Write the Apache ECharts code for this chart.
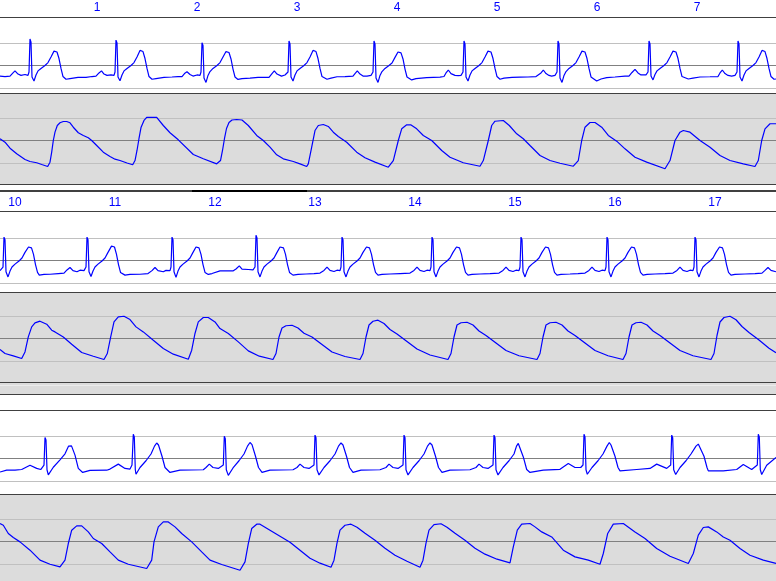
<!DOCTYPE html>
<html>
<head>
<meta charset="utf-8">
<script src="https://cdn.jsdelivr.net/npm/echarts@6.0.0/dist/echarts.min.js"></script>
<style>
html,body{margin:0;padding:0;background:#fff;}
#main{width:776px;height:581px;}
</style>
</head>
<body>
<div id="main"></div>
<script>
// ---- time bases (seconds) of the three strips and the second ticks shown on top ----
const strip1Start = 0.03;
const strip2Start = 9.85;
const strip3Start = 19.70;
const stripSpan = 7.76;
const strip1Ticks = [1, 2, 3, 4, 5, 6, 7];
const strip2Ticks = [10, 11, 12, 13, 14, 15, 16, 17];
const strip3Ticks = [];

// reference grid levels
const ecgGridValues = [-1, 0, 1];        // mV
const artGridValues = [60, 90, 120];     // mmHg

// ---- ECG (mV), time in seconds from strip start ----
const ecg1 = [
[0.00,-0.47],[0.05,-0.49],[0.10,-0.47],[0.13,-0.33],[0.15,-0.24],[0.18,-0.38],[0.21,-0.44],[0.25,-0.40],[0.28,-0.44],[0.29,-0.29],[0.30,1.18],[0.31,1.04],[0.32,-0.51],[0.34,-0.69],[0.36,-0.42],[0.38,-0.24],[0.41,-0.13],[0.45,0.00],[0.48,0.13],[0.51,0.38],[0.54,0.64],[0.555,0.69],[0.57,0.60],[0.59,0.31],[0.61,-0.13],[0.63,-0.49],[0.66,-0.61],[0.70,-0.58],[0.78,-0.53],[0.86,-0.53],[0.92,-0.49],
[0.96,-0.47],[0.99,-0.33],[1.015,-0.24],[1.04,-0.38],[1.07,-0.44],[1.11,-0.42],[1.14,-0.44],[1.15,-0.29],[1.16,1.13],[1.17,1.00],[1.18,-0.51],[1.20,-0.68],[1.22,-0.42],[1.24,-0.24],[1.27,-0.13],[1.31,0.00],[1.34,0.13],[1.37,0.38],[1.40,0.67],[1.415,0.72],[1.43,0.62],[1.45,0.31],[1.47,-0.13],[1.49,-0.49],[1.52,-0.61],[1.56,-0.58],[1.64,-0.53],[1.72,-0.51],[1.78,-0.49],
[1.82,-0.49],[1.845,-0.36],[1.87,-0.28],[1.90,-0.40],[1.93,-0.47],[1.97,-0.42],[2.00,-0.44],[2.01,-0.29],[2.02,1.01],[2.03,0.89],[2.04,-0.56],[2.06,-0.75],[2.08,-0.44],[2.10,-0.27],[2.13,-0.13],[2.17,0.00],[2.20,0.13],[2.23,0.38],[2.26,0.62],[2.275,0.66],[2.29,0.58],[2.31,0.29],[2.33,-0.16],[2.35,-0.51],[2.38,-0.62],[2.42,-0.58],[2.50,-0.56],[2.58,-0.53],[2.65,-0.53],
[2.69,-0.53],[2.72,-0.36],[2.743,-0.24],[2.77,-0.38],[2.815,-0.47],[2.85,-0.42],[2.87,-0.44],[2.88,-0.29],[2.89,1.09],[2.90,0.96],[2.91,-0.51],[2.93,-0.69],[2.95,-0.42],[2.97,-0.24],[3.00,-0.13],[3.04,0.00],[3.07,0.13],[3.10,0.38],[3.13,0.67],[3.145,0.72],[3.16,0.62],[3.18,0.31],[3.20,-0.13],[3.22,-0.49],[3.27,-0.61],[3.31,-0.56],[3.37,-0.50],[3.45,-0.49],[3.53,-0.47],
[3.55,-0.36],[3.573,-0.24],[3.60,-0.38],[3.63,-0.47],[3.67,-0.47],[3.71,-0.44],[3.73,-0.29],[3.74,1.09],[3.75,0.96],[3.76,-0.56],[3.78,-0.75],[3.80,-0.44],[3.82,-0.27],[3.85,-0.13],[3.89,0.00],[3.92,0.11],[3.95,0.36],[3.98,0.60],[3.995,0.64],[4.01,0.56],[4.03,0.29],[4.05,-0.16],[4.07,-0.51],[4.117,-0.64],[4.16,-0.58],[4.267,-0.54],[4.40,-0.52],[4.44,-0.49],
[4.46,-0.33],[4.483,-0.20],[4.51,-0.36],[4.55,-0.44],[4.583,-0.45],[4.61,-0.44],[4.63,-0.29],[4.64,1.09],[4.65,0.96],[4.66,-0.51],[4.68,-0.69],[4.70,-0.42],[4.72,-0.24],[4.75,-0.13],[4.79,0.00],[4.82,0.13],[4.85,0.38],[4.88,0.64],[4.895,0.69],[4.91,0.60],[4.93,0.31],[4.95,-0.13],[4.97,-0.49],[5.00,-0.61],[5.04,-0.56],[5.12,-0.53],[5.20,-0.52],[5.28,-0.51],[5.36,-0.49],
[5.38,-0.49],[5.41,-0.33],[5.433,-0.20],[5.46,-0.36],[5.49,-0.44],[5.517,-0.47],[5.55,-0.44],[5.57,-0.29],[5.58,1.09],[5.59,0.96],[5.60,-0.56],[5.62,-0.75],[5.64,-0.44],[5.66,-0.27],[5.69,-0.13],[5.73,0.00],[5.76,0.13],[5.79,0.38],[5.82,0.64],[5.835,0.69],[5.85,0.60],[5.87,0.31],[5.89,-0.13],[5.91,-0.51],[5.967,-0.69],[6.01,-0.60],[6.067,-0.54],[6.15,-0.51],[6.25,-0.47],
[6.29,-0.47],[6.32,-0.31],[6.35,-0.17],[6.38,-0.33],[6.41,-0.42],[6.433,-0.42],[6.46,-0.42],[6.48,-0.29],[6.49,1.09],[6.50,0.96],[6.51,-0.47],[6.53,-0.64],[6.55,-0.40],[6.57,-0.24],[6.60,-0.13],[6.64,0.00],[6.67,0.13],[6.70,0.38],[6.73,0.64],[6.745,0.69],[6.76,0.60],[6.78,0.31],[6.80,-0.13],[6.82,-0.49],[6.883,-0.60],[6.93,-0.56],[7.00,-0.51],[7.10,-0.50],[7.18,-0.49],
[7.20,-0.33],[7.223,-0.20],[7.25,-0.36],[7.28,-0.44],[7.317,-0.47],[7.35,-0.44],[7.37,-0.29],[7.38,1.09],[7.39,0.96],[7.40,-0.51],[7.42,-0.69],[7.44,-0.42],[7.46,-0.24],[7.49,-0.13],[7.53,0.00],[7.56,0.13],[7.59,0.38],[7.62,0.67],[7.635,0.72],[7.65,0.62],[7.67,0.31],[7.69,-0.13],[7.71,-0.49],[7.74,-0.61],[7.76,-0.60]
];

const ecg2 = [
[0.00,-0.45],[0.02,-0.45],[0.03,-0.29],[0.04,1.04],[0.05,0.92],[0.06,-0.50],[0.08,-0.73],[0.10,-0.47],[0.12,-0.29],[0.15,-0.16],[0.19,-0.02],[0.22,0.11],[0.25,0.36],[0.285,0.60],[0.30,0.62],[0.315,0.56],[0.335,0.27],[0.355,-0.18],[0.375,-0.53],[0.393,-0.65],[0.44,-0.62],[0.50,-0.61],[0.583,-0.58],[0.64,-0.56],
[0.67,-0.42],[0.70,-0.31],[0.73,-0.45],[0.77,-0.50],[0.80,-0.43],[0.84,-0.45],[0.86,-0.29],[0.87,1.04],[0.88,0.92],[0.89,-0.50],[0.91,-0.71],[0.93,-0.47],[0.95,-0.29],[0.98,-0.16],[1.02,-0.02],[1.05,0.11],[1.08,0.36],[1.115,0.64],[1.13,0.68],[1.145,0.60],[1.165,0.27],[1.185,-0.18],[1.205,-0.53],[1.25,-0.65],[1.30,-0.62],[1.40,-0.61],[1.48,-0.58],
[1.52,-0.45],[1.55,-0.31],[1.58,-0.45],[1.633,-0.50],[1.66,-0.44],[1.70,-0.45],[1.71,-0.29],[1.72,1.04],[1.73,0.92],[1.74,-0.50],[1.76,-0.75],[1.78,-0.47],[1.80,-0.29],[1.83,-0.16],[1.87,-0.02],[1.90,0.11],[1.93,0.36],[1.96,0.60],[1.977,0.65],[1.99,0.56],[2.01,0.27],[2.03,-0.18],[2.05,-0.53],[2.083,-0.62],[2.12,-0.58],[2.20,-0.46],[2.333,-0.46],
[2.36,-0.38],[2.393,-0.24],[2.42,-0.38],[2.483,-0.40],[2.53,-0.42],[2.55,-0.29],[2.56,1.12],[2.57,1.00],[2.58,-0.50],[2.60,-0.73],[2.62,-0.47],[2.64,-0.29],[2.67,-0.16],[2.71,-0.02],[2.74,0.11],[2.77,0.36],[2.80,0.60],[2.82,0.64],[2.835,0.56],[2.855,0.27],[2.875,-0.18],[2.895,-0.53],[2.93,-0.65],[2.98,-0.62],[3.06,-0.60],[3.14,-0.58],[3.20,-0.56],
[3.24,-0.44],[3.27,-0.29],[3.30,-0.44],[3.34,-0.49],[3.37,-0.43],[3.40,-0.45],[3.41,-0.29],[3.42,1.04],[3.43,0.92],[3.44,-0.50],[3.46,-0.73],[3.48,-0.47],[3.50,-0.29],[3.53,-0.16],[3.57,-0.02],[3.60,0.11],[3.63,0.36],[3.665,0.60],[3.68,0.64],[3.695,0.56],[3.715,0.27],[3.735,-0.18],[3.755,-0.53],[3.78,-0.65],[3.82,-0.62],[3.90,-0.60],[4.00,-0.58],[4.10,-0.56],
[4.14,-0.44],[4.17,-0.29],[4.20,-0.44],[4.24,-0.49],[4.27,-0.43],[4.30,-0.45],[4.31,-0.29],[4.32,1.04],[4.33,0.92],[4.34,-0.50],[4.36,-0.73],[4.38,-0.47],[4.40,-0.29],[4.43,-0.16],[4.47,-0.02],[4.50,0.11],[4.53,0.36],[4.565,0.60],[4.58,0.64],[4.595,0.56],[4.615,0.27],[4.635,-0.18],[4.655,-0.53],[4.68,-0.65],[4.72,-0.62],[4.80,-0.60],[4.90,-0.58],[4.99,-0.56],
[5.03,-0.44],[5.06,-0.29],[5.09,-0.44],[5.13,-0.49],[5.16,-0.43],[5.19,-0.45],[5.20,-0.29],[5.21,1.04],[5.22,0.92],[5.23,-0.50],[5.25,-0.73],[5.27,-0.47],[5.29,-0.29],[5.32,-0.16],[5.36,-0.02],[5.39,0.11],[5.42,0.36],[5.455,0.60],[5.47,0.64],[5.485,0.56],[5.505,0.27],[5.525,-0.18],[5.545,-0.53],[5.57,-0.65],[5.61,-0.62],[5.70,-0.60],[5.78,-0.58],[5.85,-0.56],
[5.89,-0.44],[5.92,-0.29],[5.95,-0.44],[5.99,-0.49],[6.02,-0.43],[6.05,-0.45],[6.06,-0.29],[6.07,1.04],[6.08,0.92],[6.09,-0.50],[6.11,-0.73],[6.13,-0.47],[6.15,-0.29],[6.18,-0.16],[6.22,-0.02],[6.25,0.11],[6.28,0.36],[6.315,0.60],[6.33,0.64],[6.345,0.56],[6.365,0.27],[6.385,-0.18],[6.405,-0.53],[6.43,-0.65],[6.47,-0.62],[6.55,-0.60],[6.65,-0.58],[6.73,-0.56],
[6.77,-0.44],[6.80,-0.29],[6.83,-0.44],[6.87,-0.49],[6.90,-0.43],[6.93,-0.45],[6.94,-0.29],[6.95,1.04],[6.96,0.92],[6.97,-0.50],[6.99,-0.73],[7.01,-0.47],[7.03,-0.29],[7.06,-0.16],[7.10,-0.02],[7.13,0.11],[7.16,0.36],[7.195,0.60],[7.21,0.64],[7.225,0.56],[7.245,0.27],[7.265,-0.18],[7.285,-0.53],[7.31,-0.65],[7.35,-0.62],[7.45,-0.60],[7.55,-0.58],[7.62,-0.56],
[7.65,-0.44],[7.68,-0.31],[7.71,-0.44],[7.76,-0.50]
];

const ecg3 = [
[0.00,-0.60],[0.067,-0.52],[0.15,-0.52],[0.217,-0.49],[0.30,-0.30],[0.367,-0.44],[0.407,-0.49],
[0.44,-0.29],[0.45,0.93],[0.46,0.82],[0.47,-0.50],[0.483,-0.73],[0.533,-0.39],[0.60,-0.06],[0.65,0.21],[0.685,0.55],[0.70,0.62],[0.715,0.56],[0.75,0.15],[0.783,-0.44],[0.827,-0.62],[0.90,-0.53],[1.067,-0.52],
[1.10,-0.47],[1.183,-0.25],[1.25,-0.44],[1.30,-0.47],[1.32,-0.29],[1.333,1.08],[1.343,0.96],[1.353,-0.50],[1.36,-0.70],[1.40,-0.40],[1.46,-0.10],[1.51,0.20],[1.545,0.55],[1.567,0.69],[1.585,0.60],[1.62,0.10],[1.65,-0.40],[1.70,-0.62],[1.80,-0.52],[2.033,-0.50],
[2.06,-0.40],[2.093,-0.25],[2.13,-0.40],[2.183,-0.44],[2.233,-0.29],[2.243,0.99],[2.253,0.88],[2.263,-0.50],[2.283,-0.75],[2.33,-0.42],[2.39,-0.10],[2.44,0.20],[2.475,0.55],[2.50,0.71],[2.52,0.62],[2.555,0.10],[2.585,-0.40],[2.62,-0.62],[2.70,-0.52],[2.93,-0.50],
[2.97,-0.40],[3.00,-0.25],[3.04,-0.40],[3.09,-0.44],[3.14,-0.29],[3.15,1.04],[3.16,0.92],[3.17,-0.50],[3.19,-0.73],[3.24,-0.40],[3.30,-0.10],[3.35,0.20],[3.385,0.55],[3.41,0.69],[3.43,0.60],[3.465,0.10],[3.495,-0.40],[3.53,-0.62],[3.61,-0.52],[3.80,-0.50],
[3.86,-0.40],[3.89,-0.25],[3.93,-0.40],[3.98,-0.44],[4.03,-0.29],[4.04,1.04],[4.05,0.92],[4.06,-0.50],[4.08,-0.73],[4.13,-0.40],[4.19,-0.10],[4.24,0.20],[4.275,0.55],[4.30,0.69],[4.32,0.60],[4.355,0.10],[4.385,-0.40],[4.42,-0.62],[4.50,-0.52],[4.70,-0.50],
[4.76,-0.40],[4.79,-0.25],[4.83,-0.40],[4.88,-0.44],[4.93,-0.29],[4.94,1.04],[4.95,0.92],[4.96,-0.50],[4.98,-0.73],[5.03,-0.40],[5.09,-0.10],[5.14,0.20],[5.165,0.55],[5.183,0.67],[5.20,0.60],[5.233,0.07],[5.267,-0.49],[5.30,-0.62],[5.433,-0.52],[5.60,-0.48],
[5.683,-0.22],[5.75,-0.40],[5.807,-0.40],[5.83,-0.29],[5.84,1.08],[5.85,0.96],[5.86,-0.50],[5.873,-0.70],[5.92,-0.40],[5.98,-0.10],[6.03,0.20],[6.07,0.55],[6.093,0.71],[6.11,0.60],[6.15,0.10],[6.18,-0.40],[6.20,-0.55],[6.367,-0.49],[6.50,-0.44],
[6.567,-0.25],[6.667,-0.44],[6.707,-0.29],[6.717,1.04],[6.727,0.92],[6.737,-0.50],[6.757,-0.71],[6.80,-0.40],[6.86,-0.10],[6.91,0.20],[6.96,0.55],[6.983,0.64],[7.00,0.58],[7.04,0.10],[7.07,-0.40],[7.083,-0.55],[7.233,-0.55],[7.367,-0.49],
[7.433,-0.27],[7.517,-0.49],[7.573,-0.29],[7.583,1.08],[7.593,0.96],[7.603,-0.50],[7.617,-0.71],[7.667,-0.30],[7.76,0.05]
];

// ---- arterial pressure (mmHg), time in seconds from strip start ----
const art1 = [
[0.00,92.3],[0.05,87.7],[0.10,79.7],[0.167,72.3],[0.25,64.7],[0.30,62.0],[0.367,60.3],[0.417,58.0],[0.477,55.3],[0.50,61.1],[0.517,74.4],[0.533,90.0],[0.55,101.1],[0.573,110.0],[0.60,113.6],[0.633,115.3],[0.667,115.3],[0.70,113.6],[0.733,107.7],[0.783,100.3],[0.833,96.7],[0.883,93.6],[0.917,90.0],[0.967,83.3],[1.033,74.4],[1.10,68.7],[1.15,65.1],[1.20,63.3],[1.27,60.0],[1.327,57.6],
[1.35,63.3],[1.37,76.7],[1.39,92.7],[1.41,107.3],[1.44,116.7],[1.467,120.7],[1.567,120.7],[1.633,110.0],[1.70,100.3],[1.783,90.9],[1.933,71.3],[2.033,65.6],[2.167,58.9],[2.183,57.6],
[2.205,63.3],[2.225,76.7],[2.245,92.7],[2.265,106.0],[2.29,114.0],[2.32,117.3],[2.367,118.0],[2.42,117.3],[2.483,110.0],[2.567,96.7],[2.633,90.0],[2.70,81.1],[2.767,70.9],[2.833,65.6],[2.933,62.0],[3.00,58.9],[3.067,55.3],
[3.083,58.9],[3.117,81.1],[3.15,103.3],[3.183,110.0],[3.233,111.3],[3.283,108.7],[3.333,101.1],[3.383,95.3],[3.467,87.7],[3.567,74.4],[3.65,66.9],[3.75,61.1],[3.883,54.4],
[3.933,63.3],[3.983,90.0],[4.017,105.6],[4.067,110.9],[4.107,110.9],[4.167,105.6],[4.233,96.7],[4.317,90.0],[4.417,76.7],[4.50,67.7],[4.633,60.3],[4.80,55.7],
[4.833,63.3],[4.883,90.0],[4.917,110.0],[4.95,115.7],[5.033,116.7],[5.093,110.0],[5.167,98.9],[5.233,92.3],[5.30,83.3],[5.40,70.0],[5.50,63.3],[5.60,59.7],[5.733,55.7],
[5.783,63.3],[5.817,90.0],[5.85,107.7],[5.90,114.0],[5.95,114.0],[6.017,107.7],[6.083,96.7],[6.167,89.1],[6.25,78.9],[6.35,67.7],[6.467,61.1],[6.65,52.3],
[6.70,63.3],[6.75,90.0],[6.80,101.1],[6.833,103.3],[6.90,101.1],[7.00,90.0],[7.10,81.1],[7.20,70.0],[7.30,63.3],[7.433,58.9],[7.55,55.3],
[7.583,63.3],[7.617,90.0],[7.65,105.6],[7.70,112.3],[7.76,112.3]
];

const art2 = [
[0.00,75.3],[0.05,70.0],[0.133,66.8],[0.217,63.3],[0.25,72.1],[0.283,92.1],[0.317,105.5],[0.35,110.8],[0.40,113.1],[0.467,109.1],[0.517,101.1],[0.55,98.8],[0.633,92.1],[0.717,82.4],[0.817,71.3],[0.933,66.4],[1.04,62.0],
[1.073,70.0],[1.107,92.1],[1.14,112.1],[1.183,118.8],[1.24,119.7],[1.30,115.3],[1.36,105.5],[1.433,98.8],[1.533,87.7],[1.633,76.7],[1.733,69.1],[1.883,62.4],
[1.917,74.4],[1.95,96.7],[1.983,112.1],[2.033,118.0],[2.083,118.0],[2.15,112.1],[2.20,103.3],[2.283,96.7],[2.383,85.5],[2.483,73.5],[2.593,66.4],[2.73,62.0],
[2.76,70.0],[2.79,92.0],[2.82,104.0],[2.86,107.0],[2.92,107.7],[2.98,104.0],[3.04,97.0],[3.12,92.0],[3.22,82.0],[3.32,72.0],[3.45,66.0],[3.60,62.0],
[3.63,70.0],[3.66,92.0],[3.69,108.0],[3.73,113.0],[3.78,114.4],[3.84,110.0],[3.90,102.0],[3.97,96.0],[4.07,86.0],[4.17,76.0],[4.30,68.0],[4.48,62.0],
[4.51,70.0],[4.54,92.0],[4.57,108.0],[4.61,111.0],[4.67,111.7],[4.73,108.0],[4.79,100.0],[4.86,94.0],[4.96,84.0],[5.06,74.0],[5.19,67.0],[5.37,62.0],
[5.40,70.0],[5.43,92.0],[5.46,108.0],[5.50,111.0],[5.56,111.7],[5.62,108.0],[5.68,100.0],[5.75,94.0],[5.85,84.0],[5.95,74.0],[6.08,67.0],[6.23,62.0],
[6.26,70.0],[6.29,92.0],[6.32,108.0],[6.36,111.0],[6.41,111.7],[6.47,108.0],[6.53,100.0],[6.60,94.0],[6.70,84.0],[6.80,74.0],[6.93,67.0],[7.11,62.0],
[7.14,70.0],[7.17,94.0],[7.20,112.0],[7.24,118.0],[7.30,119.7],[7.36,115.0],[7.42,106.0],[7.49,98.0],[7.59,88.0],[7.69,77.0],[7.76,71.0]
];

const art3 = [
[0.00,114.0],[0.033,111.7],[0.083,100.7],[0.133,95.3],[0.20,89.5],[0.30,78.4],[0.40,65.1],[0.50,59.7],[0.60,56.1],
[0.65,65.1],[0.683,87.3],[0.717,105.1],[0.767,110.8],[0.817,110.8],[0.883,102.8],[0.933,94.0],[1.017,87.3],[1.10,76.1],[1.183,65.1],[1.283,59.7],[1.467,54.0],
[1.517,65.1],[1.54,89.5],[1.583,109.5],[1.633,116.1],[1.683,116.1],[1.75,109.5],[1.817,100.7],[1.917,89.5],[2.017,76.1],[2.10,65.1],[2.217,59.3],[2.40,51.7],
[2.45,62.8],[2.483,87.3],[2.517,107.3],[2.567,113.1],[2.60,113.1],[2.70,105.1],[2.80,97.1],[2.90,89.1],[3.00,78.4],[3.10,67.7],[3.20,61.1],[3.31,55.7],
[3.34,65.1],[3.37,87.7],[3.40,105.1],[3.45,111.7],[3.51,113.1],[3.57,109.1],[3.65,101.1],[3.75,91.7],[3.85,81.1],[3.95,71.7],[4.07,63.7],[4.20,55.7],
[4.23,65.1],[4.26,87.7],[4.29,105.1],[4.34,112.4],[4.41,113.7],[4.47,109.1],[4.55,101.1],[4.65,91.7],[4.75,81.1],[4.85,73.1],[4.97,66.4],[5.10,61.5],
[5.133,82.8],[5.173,105.1],[5.217,113.1],[5.30,114.0],[5.35,109.5],[5.417,102.8],[5.517,96.1],[5.633,78.4],[5.75,69.5],[5.883,65.1],[6.00,59.7],
[6.033,74.0],[6.077,100.7],[6.133,113.1],[6.233,114.0],[6.35,102.8],[6.45,94.0],[6.567,80.7],[6.70,70.4],[6.883,60.7],
[6.933,74.0],[6.983,98.4],[7.033,108.7],[7.083,109.5],[7.167,102.8],[7.233,96.1],[7.30,91.7],[7.40,80.7],[7.50,71.7],[7.633,65.1],[7.76,60.7]
];

// ---------------- layout / styling ----------------
const BLUE = '#0000ff';
const BORDER = '#404040';
const strips = [
  {start: strip1Start, ticks: strip1Ticks, ecg: ecg1, art: art1,
   ecgTop: 17, ecgH: 76, ecgMin: -1.222, ecgMax: 2.156,
   artTop: 93, artH: 91, artMin: 32, artMax: 153.33, bottomLine: true, labelMargin: 3},
  {start: strip2Start, ticks: strip2Ticks, ecg: ecg2, art: art2,
   ecgTop: 211, ecgH: 81, ecgMin: -1.4, ecgMax: 2.2,
   artTop: 292, artH: 90, artMin: 32, artMax: 152, bottomLine: true, labelMargin: 2},
  {start: strip3Start, ticks: strip3Ticks, ecg: ecg3, art: art3,
   ecgTop: 410, ecgH: 84, ecgMin: -1.578, ecgMax: 2.156,
   artTop: 494, artH: 90, artMin: 33.33, artMax: 153.33, bottomLine: false, labelMargin: 2}
];

const grid = [], xAxis = [], yAxis = [], series = [];
strips.forEach((s, i) => {
  const gE = grid.length;
  grid.push({left: 0, right: 0, top: s.ecgTop, height: s.ecgH, show: true,
             backgroundColor: '#ffffff', borderWidth: 0, outerBoundsMode: 'none'});
  const gA = grid.length;
  grid.push({left: 0, right: 0, top: s.artTop, height: s.artH, show: true,
             backgroundColor: '#dcdcdc', borderWidth: 0, outerBoundsMode: 'none'});
  const xMin = s.start, xMax = s.start + stripSpan;
  const xE = xAxis.length;
  xAxis.push({type: 'value', gridIndex: gE, position: 'top', min: xMin, max: xMax,
    axisLine: {show: true, onZero: false, lineStyle: {color: BORDER, width: 1}},
    axisTick: {show: false},
    axisLabel: {show: s.ticks.length > 0, customValues: s.ticks, color: BLUE,
                fontSize: 12, fontFamily: 'Liberation Sans, Arial, sans-serif',
                margin: s.labelMargin, showMinLabel: true, showMaxLabel: true,
                hideOverlap: false},
    splitLine: {show: false}});
  const xA = xAxis.length;
  xAxis.push({type: 'value', gridIndex: gA, position: 'top', min: xMin, max: xMax,
    axisLine: {show: true, onZero: false, lineStyle: {color: BORDER, width: 1}},
    axisTick: {show: false}, axisLabel: {show: false}, splitLine: {show: false}});
  if (s.bottomLine) {
    xAxis.push({type: 'value', gridIndex: gA, position: 'bottom', min: xMin, max: xMax,
      axisLine: {show: true, onZero: false, lineStyle: {color: BORDER, width: 1}},
      axisTick: {show: false}, axisLabel: {show: false}, splitLine: {show: false}});
  }
  const yE = yAxis.length;
  yAxis.push({type: 'value', gridIndex: gE, min: s.ecgMin, max: s.ecgMax,
    axisLine: {show: false}, axisTick: {show: false, customValues: ecgGridValues},
    axisLabel: {show: false, customValues: ecgGridValues},
    splitLine: {show: true, lineStyle: {color: ['#c0c0c0', '#808080', '#c0c0c0'], width: 1}}});
  const yA = yAxis.length;
  yAxis.push({type: 'value', gridIndex: gA, min: s.artMin, max: s.artMax,
    axisLine: {show: false}, axisTick: {show: false, customValues: artGridValues},
    axisLabel: {show: false, customValues: artGridValues},
    splitLine: {show: true, lineStyle: {color: ['#c0c0c0', '#808080', '#c0c0c0'], width: 1}}});
  series.push({type: 'line', xAxisIndex: xE, yAxisIndex: yE, showSymbol: false, symbol: 'none',
    data: s.ecg.map(p => [p[0] + s.start, p[1]]), lineStyle: {color: BLUE, width: 1.2},
    silent: true, animation: false});
  series.push({type: 'line', xAxisIndex: xA, yAxisIndex: yA, showSymbol: false, symbol: 'none',
    data: s.art.map(p => [p[0] + s.start, p[1]]), lineStyle: {color: BLUE, width: 1.2},
    silent: true, animation: false});
});

const chart = echarts.init(document.getElementById('main'), null, {renderer: 'canvas'});
chart.setOption({
  animation: false,
  backgroundColor: '#ffffff',
  grid, xAxis, yAxis, series,
  graphic: [
    {type: 'rect', shape: {x: 0, y: 190, width: 776, height: 2}, style: {fill: '#404040'}, silent: true},
    {type: 'rect', shape: {x: 192, y: 190, width: 115, height: 2}, style: {fill: '#000000'}, silent: true},
    {type: 'rect', shape: {x: 0, y: 383, width: 776, height: 11}, style: {fill: '#dcdcdc'}, silent: true},
    {type: 'rect', shape: {x: 0, y: 385, width: 776, height: 1}, style: {fill: '#ececec'}, silent: true},
    {type: 'rect', shape: {x: 0, y: 394, width: 776, height: 1}, style: {fill: '#404040'}, silent: true}
  ]
});
</script>
</body>
</html>
